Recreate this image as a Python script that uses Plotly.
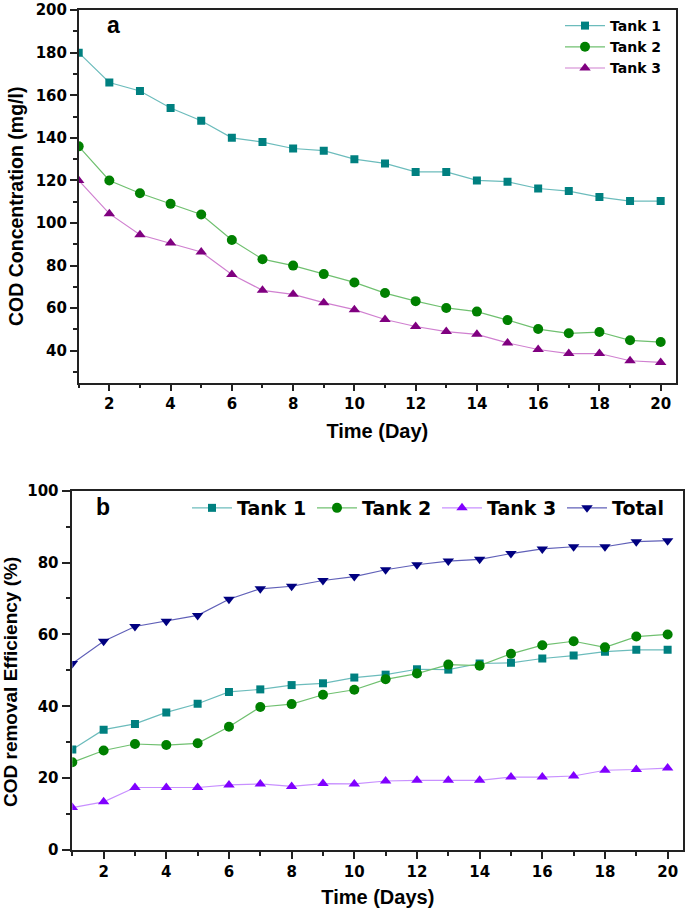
import plotly.graph_objects as go

days = list(range(1, 21))

# Panel a: COD concentration (mg/l)
tank1_cod = [180, 166, 162, 154, 148, 140, 138, 135, 134, 130, 128, 124, 124, 120, 119.4, 116.2, 115, 112.2, 110.3, 110.3]
tank2_cod = [136, 120, 114, 109, 104, 92, 83, 80, 76, 72.1, 67.1, 63.3, 60.1, 58.4, 54.4, 50.2, 48.2, 48.8, 44.9, 44.1]
tank3_cod = [120, 104.4, 94.5, 90.6, 86.4, 75.8, 68.4, 66.5, 62.6, 59.3, 54.7, 51.4, 49, 47.7, 43.7, 40.6, 38.7, 38.7, 35.3, 34.5]

# Panel b: COD removal efficiency (%)
tank1_eff = [28, 33.5, 35.1, 38.3, 40.7, 44, 44.7, 45.9, 46.4, 48, 48.8, 50.3, 50.2, 51.9, 52.1, 53.3, 54.1, 55.2, 55.7, 55.7]
tank2_eff = [24.4, 27.7, 29.5, 29.2, 29.7, 34.3, 39.8, 40.6, 43.2, 44.6, 47.5, 49.1, 51.6, 51.3, 54.6, 57, 58.1, 56.4, 59.4, 60]
tank3_eff = [11.8, 13.4, 17.4, 17.4, 17.4, 18.1, 18.4, 17.7, 18.5, 18.4, 19.2, 19.4, 19.4, 19.4, 20.3, 20.3, 20.6, 22.2, 22.4, 22.8]
total_eff = [51.9, 58.1, 62.2, 63.7, 65.3, 69.8, 72.7, 73.4, 75, 76.1, 78, 79.4, 80.4, 80.9, 82.5, 83.8, 84.4, 84.4, 85.8, 86.1]

W, H = 685, 908
TICKFONT = dict(family="DejaVu Sans", size=15, color="black", weight="bold")
TITLEFONT = dict(family="Liberation Sans, Arial", size=20, color="black", weight="bold")

def fx(px):
    return px / W

def fy(py):
    return 1 - py / H

fig = go.Figure()

def add(x, y, name, mcol, lcol, sym, size, xa, ya, leg):
    fig.add_trace(go.Scatter(
        x=x, y=y, name=name, mode="lines+markers",
        line=dict(color=lcol, width=1.2),
        marker=dict(color=mcol, symbol=sym, size=size, line=dict(width=0)),
        xaxis=xa, yaxis=ya, legend=leg))

add(days, tank1_cod, "Tank 1", "#008080", "#6cbcbc", "square", 8, "x", "y", "legend")
add(days, tank2_cod, "Tank 2", "#008000", "#70c070", "circle", 10, "x", "y", "legend")
add(days, tank3_cod, "Tank 3", "#800080", "#d080d0", "triangle-up", 10, "x", "y", "legend")

add(days, tank1_eff, "Tank 1", "#008080", "#6cbcbc", "square", 8, "x2", "y2", "legend2")
add(days, tank2_eff, "Tank 2", "#008000", "#70c070", "circle", 10, "x2", "y2", "legend2")
add(days, tank3_eff, "Tank 3", "#8000ff", "#c890ff", "triangle-up", 10, "x2", "y2", "legend2")
add(days, total_eff, "Total", "#000080", "#6060b8", "triangle-down", 10, "x2", "y2", "legend2")

MINOR = dict(ticks="outside", ticklen=4, tickwidth=1.5, tickcolor="#222", tick0=0)
axis_common = dict(
    showline=True, linecolor="#222", linewidth=1.5, mirror=True,
    ticks="outside", ticklen=7, tickwidth=1.5, tickcolor="#222",
    showgrid=False, zeroline=False, tickfont=TICKFONT, ticklabeloverflow="allow",
)

fig.update_layout(
    width=W, height=H,
    margin=dict(l=0, r=0, t=0, b=0, autoexpand=False),
    paper_bgcolor="white", plot_bgcolor="white",
    xaxis=dict(axis_common, domain=[fx(78.7), fx(676)], range=[1, 20.5],
               tick0=0, dtick=2, minor=dict(MINOR, dtick=1),
               title=dict(text="Time (Day)", font=TITLEFONT, standoff=12), anchor="y"),
    yaxis=dict(axis_common, domain=[fy(382.7), fy(10)], range=[25, 200.05],
               tick0=0, dtick=20, minor=dict(MINOR, dtick=10), anchor="x"),
    xaxis2=dict(axis_common, domain=[fx(72.3), fx(683.3)], range=[1, 20.5],
                tick0=0, dtick=2, minor=dict(MINOR, dtick=1),
                title=dict(text="Time (Days)", font=TITLEFONT, standoff=12), anchor="y2"),
    yaxis2=dict(axis_common, domain=[fy(850), fy(490.7)], range=[0, 100],
                tick0=0, dtick=20, ticklen=9, minor=dict(MINOR, dtick=10, ticklen=5), anchor="x2"),
    legend=dict(x=fx(667), xanchor="right", y=fy(10), yanchor="top",
                font=dict(family="DejaVu Sans", size=14, color="black", weight="bold"),
                bgcolor="rgba(0,0,0,0)", itemwidth=40, tracegroupgap=0),
    legend2=dict(orientation="h", x=fx(187), xanchor="left", y=fy(489), yanchor="top",
                 font=dict(family="DejaVu Sans", size=19, color="black", weight="bold"),
                 bgcolor="rgba(0,0,0,0)", itemwidth=40, entrywidth=70, entrywidthmode="pixels"),
    annotations=[
        dict(text="a", x=fx(113.5), y=fy(25), xref="paper", yref="paper",
             xanchor="center", yanchor="middle", showarrow=False,
             font=dict(family="Liberation Sans, Arial", size=23, color="black", weight="bold")),
        dict(text="b", x=fx(103), y=fy(507), xref="paper", yref="paper",
             xanchor="center", yanchor="middle", showarrow=False,
             font=dict(family="Liberation Sans, Arial", size=23, color="black", weight="bold")),
        dict(text="COD Concentration (mg/l)", x=fx(16.5), y=fy(206.5), xref="paper", yref="paper",
             xanchor="center", yanchor="middle", textangle=-90, showarrow=False,
             font=dict(family="Liberation Sans, Arial", size=19.5, color="black", weight="bold")),
        dict(text="COD removal Efficiency (%)", x=fx(10.5), y=fy(682.5), xref="paper", yref="paper",
             xanchor="center", yanchor="middle", textangle=-90, showarrow=False,
             font=dict(family="Liberation Sans, Arial", size=19, color="black", weight="bold")),
    ],
)

fig.write_html("out.html", config={"displayModeBar": False},
               post_script="document.body.style.margin='0px';")
